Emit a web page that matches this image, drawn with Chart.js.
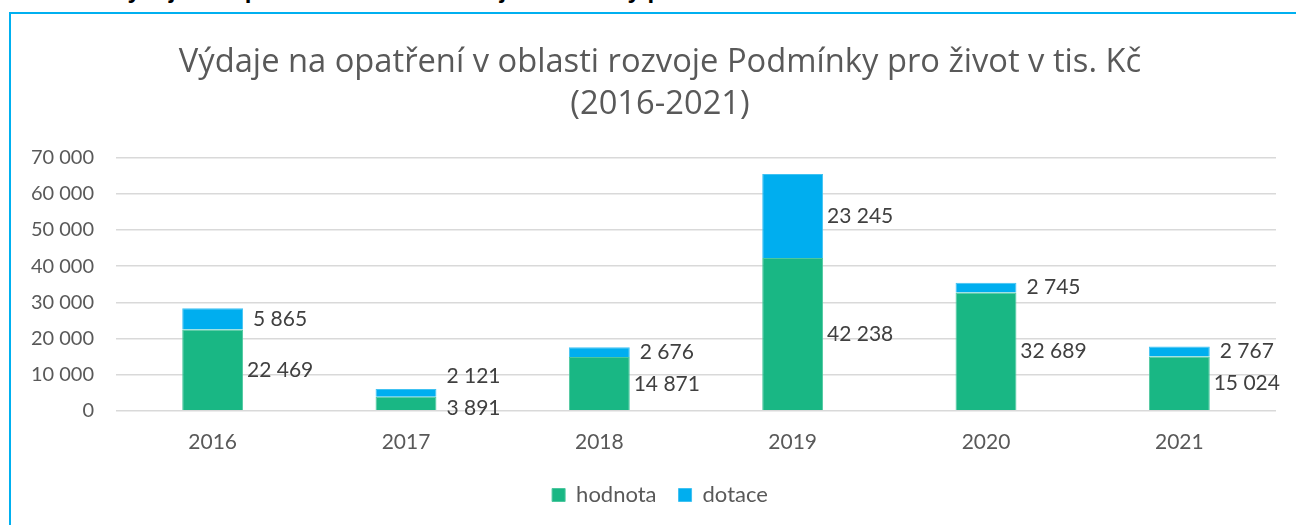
<!DOCTYPE html>
<html>
<head>
<meta charset="utf-8">
<script src="https://cdn.jsdelivr.net/npm/chart.js@4.4.1/dist/chart.umd.min.js"></script>
<style>
  html, body { margin: 0; padding: 0; background: #fff; width: 1296px; height: 525px; overflow: hidden; position: relative; }
  #caption { position: absolute; left: 14px; top: -24px; font: bold 24px "Liberation Sans", Arial, sans-serif; color: #000; white-space: nowrap; }
  #frame { position: absolute; left: 9px; top: 12px; width: 1300px; height: 520px; border-top: 2px solid #00B0F0; border-left: 2px solid #00B0F0; box-sizing: border-box; }
  #wrap { position: absolute; left: 12px; top: 14px; width: 1284px; height: 511px; }
</style>
</head>
<body>
<div id="caption">Graf 12: Výdaje na opatření v oblasti rozvoje Podmínky pro život v tis. Kč</div>
<div id="frame"></div>
<div id="wrap"><canvas id="c"></canvas></div>
<script>
const categories = ['2016', '2017', '2018', '2019', '2020', '2021'];
const hodnota = [22469, 3891, 14871, 42238, 32689, 15024];
const dotace = [5865, 2121, 2676, 23245, 2745, 2767];
const seriesNames = ['hodnota', 'dotace'];
const titleLines = ['Výdaje na opatření v oblasti rozvoje Podmínky pro život v tis. Kč', '(2016-2021)'];

const FONT = 'Lato, "Open Sans", sans-serif';
const TFONT = '"Open Sans", Lato, sans-serif';
const fmt = v => String(Math.round(v)).replace(/\B(?=(\d{3})+(?!\d))/g, ' ');

const labelPlugin = {
  id: 'stackLabels',
  afterDatasetsDraw(chart) {
    const ctx = chart.ctx;
    const m0 = chart.getDatasetMeta(0), m1 = chart.getDatasetMeta(1);
    ctx.save();
    ctx.font = '21px ' + FONT;
    ctx.fillStyle = '#404040';
    ctx.textAlign = 'center';
    ctx.textBaseline = 'middle';
    const minGap = 32;
    for (let i = 0; i < categories.length; i++) {
      const p0 = m0.data[i].getProps(['x', 'y', 'base', 'width'], true);
      const p1 = m1.data[i].getProps(['x', 'y', 'base', 'width'], true);
      let y0 = (p0.y + p0.base) / 2;
      let y1 = (p1.y + p1.base) / 2;
      if (y0 - y1 < minGap) {
        const mid = (y0 + y1) / 2;
        y0 = mid + minGap / 2;
        y1 = mid - minGap / 2;
        const lim = chart.chartArea.bottom - 3;
        if (y0 > lim) { const d = y0 - lim; y0 -= d; y1 -= d; }
      }
      const x = p0.x + p0.width / 2 + 37;
      ctx.fillText(fmt(hodnota[i]), x, y0);
      ctx.fillText(fmt(dotace[i]), x, y1);
    }
    ctx.restore();
  }
};

// centre title and legend on the whole chart frame rather than on the padded box
const centerPlugin = {
  id: 'centerBlocks',
  afterLayout(chart) {
    const shift = 9;
    if (chart.titleBlock) chart.titleBlock.right += 2 * shift;
    if (chart.legend) { chart.legend.left += shift; chart.legend.right += shift; }
  }
};

new Chart(document.getElementById('c'), {
  type: 'bar',
  data: {
    labels: categories,
    datasets: [
      { label: seriesNames[0], data: hodnota, backgroundColor: '#19B784', borderColor: '#4CC79E', borderWidth: 1, barPercentage: 0.315, categoryPercentage: 1 },
      { label: seriesNames[1], data: dotace, backgroundColor: '#00AEEF', borderColor: '#40C2F2', borderWidth: 1, barPercentage: 0.315, categoryPercentage: 1 }
    ]
  },
  options: {
    responsive: true,
    maintainAspectRatio: false,
    animation: false,
    layout: { padding: { left: 14, right: 20, top: 28, bottom: 9 } },
    plugins: {
      title: {
        display: true,
        text: titleLines,
        color: '#595959',
        font: { family: TFONT, size: 32.7, weight: '400', lineHeight: 1.28 },
        padding: { top: 0, bottom: 32 }
      },
      legend: {
        display: true,
        position: 'bottom',
        labels: {
          color: '#595959',
          font: { family: FONT, size: 22 },
          boxWidth: 13, boxHeight: 13,
          padding: 22
        }
      },
      tooltip: { enabled: false }
    },
    scales: {
      x: {
        stacked: true,
        grid: { display: false },
        border: { display: false },
        ticks: { color: '#595959', font: { family: FONT, size: 21 }, padding: 11 },
        afterFit(scale) { scale.height -= 4; }
      },
      y: {
        stacked: true,
        min: 0, max: 70000,
        ticks: { stepSize: 10000, color: '#595959', font: { family: FONT, size: 20 }, padding: 22, callback: v => fmt(v) },
        grid: { color: '#D9D9D9', lineWidth: 1.5, drawTicks: false },
        border: { display: false },
        afterFit(scale) { scale.width = 90; }
      }
    }
  },
  plugins: [labelPlugin, centerPlugin]
});
</script>
</body>
</html>
